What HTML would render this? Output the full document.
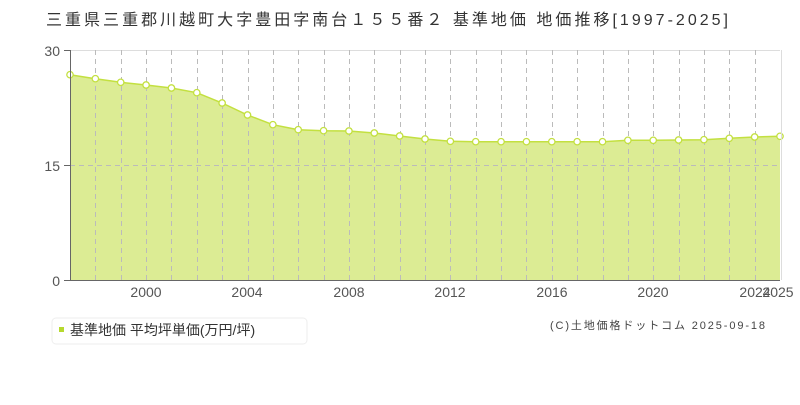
<!DOCTYPE html><html><head><meta charset="utf-8"><style>body{margin:0;background:#fff}svg text{font-family:"Liberation Sans","Noto Sans CJK JP",sans-serif}</style></head><body>
<svg width="800" height="400" viewBox="0 0 800 400" xmlns="http://www.w3.org/2000/svg">
<text x="46" y="25" font-size="16" fill="#333" textLength="682" lengthAdjust="spacing">三重県三重郡川越町大字豊田字南台１５５番２ 基準地価 地価推移[1997-2025]</text>
<line x1="70" y1="50.5" x2="780" y2="50.5" stroke="#ddd"/>
<path id="a" fill="#dcec94" stroke="none"/>
<path id="l" fill="none" stroke="#c3e040" stroke-width="1.5"/>
<g id="v" stroke="#bbb" stroke-dasharray="5,4"></g>
<line x1="70" y1="165.5" x2="780" y2="165.5" stroke="#bbb" stroke-dasharray="5,4"/>
<g id="d"></g>
<line x1="70.5" y1="50" x2="70.5" y2="280" stroke="#666"/>
<line x1="70" y1="280.5" x2="780" y2="280.5" stroke="#666"/>
<line x1="781.5" y1="50" x2="781.5" y2="280" stroke="#ddd"/>
<line x1="64" y1="50.5" x2="70" y2="50.5" stroke="#666"/><line x1="64" y1="165.5" x2="70" y2="165.5" stroke="#666"/><line x1="64" y1="280.5" x2="70" y2="280.5" stroke="#666"/>
<g font-size="14" fill="#555" text-anchor="end"><text x="60" y="56">30</text><text x="60" y="171">15</text><text x="60" y="286">0</text></g>
<g font-size="14" fill="#555" text-anchor="middle"><text x="146" y="297">2000</text><text x="247" y="297">2004</text><text x="349" y="297">2008</text><text x="450" y="297">2012</text><text x="552" y="297">2016</text><text x="653" y="297">2020</text><text x="755" y="297">2024</text><text x="778" y="297">2025</text></g>
<rect x="52" y="318" width="255" height="26" rx="4" fill="#fff" stroke="#eee"/>
<rect x="59" y="327" width="5" height="5" fill="#b6d92e"/>
<text x="70" y="335" font-size="14" fill="#333">基準地価 平均坪単価(万円/坪)</text>
<text x="550" y="329" font-size="11" fill="#444" textLength="215" lengthAdjust="spacing" font-family="Liberation Mono,Noto Sans CJK JP,monospace">(C)土地価格ドットコム 2025-09-18</text>
</svg>
<script>
var ys=[74.7,78.7,82.3,85,88,92.7,103,115,124.7,129.7,130.7,131,133,136,139,141.3,141.7,141.7,141.7,141.7,141.7,141.7,140.3,140.3,140,139.7,138.3,137,136.3];
var p="",d="",v="";
ys.forEach(function(y,i){var x=70+i*710/28;p+=(i?"L":"M")+x+","+y;
d+='<circle cx="'+x+'" cy="'+y+'" r="3.2" fill="#fff" stroke="#c3e040" stroke-width="1.3"/>';
if(i>0&&i<28)v+='<line x1="'+(Math.round(x)+.5)+'" y1="50" x2="'+(Math.round(x)+.5)+'" y2="280"/>';});
document.getElementById("l").setAttribute("d",p);
document.getElementById("a").setAttribute("d",p+"L780,280L70,280Z");
document.getElementById("v").innerHTML=v;document.getElementById("d").innerHTML=d;
</script></body></html>
